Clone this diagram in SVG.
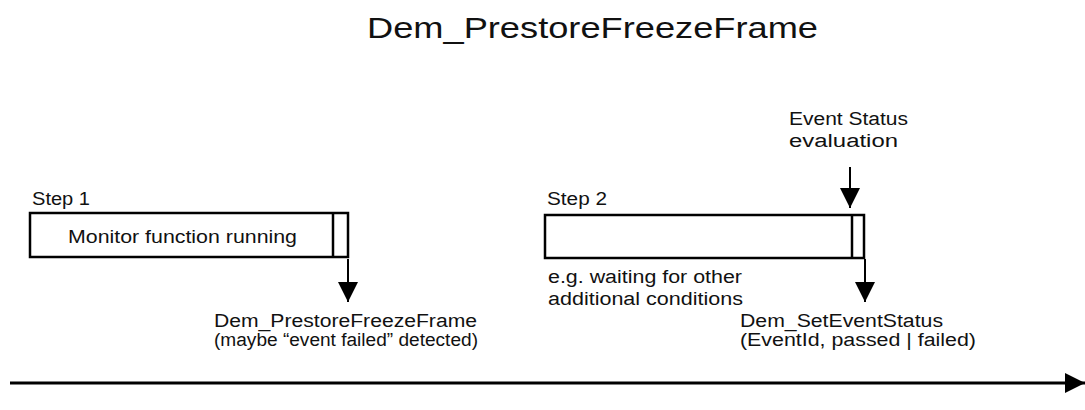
<svg xmlns="http://www.w3.org/2000/svg" width="1085" height="410" viewBox="0 0 1085 410">
<style>
  .t { font-family: "Liberation Sans", Arial, sans-serif; font-size: 18px; fill: #111; }
  .title { font-family: "Liberation Sans", Arial, sans-serif; font-size: 29px; fill: #111; }
  .box { fill: #fff; stroke: #000; stroke-width: 2.5; }
  .div { stroke: #000; stroke-width: 2.5; }
  .arr { stroke: #000; stroke-width: 2; fill: none; }
  .axis { stroke: #000; stroke-width: 3; fill: none; }
</style>
<defs>
  <marker id="head" markerUnits="userSpaceOnUse" markerWidth="20" markerHeight="20" viewBox="0 0 20 20" refX="20" refY="10" orient="auto">
    <path d="M0,0 L20,10 L0,20 Z" fill="#000"/>
  </marker>
</defs>
<rect width="1085" height="410" fill="#fff"/>
<g id="title">
  <text class="title" x="367" y="38" textLength="451" lengthAdjust="spacingAndGlyphs">Dem_PrestoreFreezeFrame</text>
</g>
<g id="step1">
  <text class="t" x="32" y="205" textLength="58" lengthAdjust="spacingAndGlyphs">Step 1</text>
  <rect class="box" x="30" y="213" width="318" height="44"/>
  <line class="div" x1="333" y1="213" x2="333" y2="257"/>
  <text class="t" x="68" y="243" textLength="229" lengthAdjust="spacingAndGlyphs">Monitor function running</text>
</g>
<g id="step2">
  <text class="t" x="547" y="205" textLength="60" lengthAdjust="spacingAndGlyphs">Step 2</text>
  <rect class="box" x="545" y="215" width="319" height="43"/>
  <line class="div" x1="852" y1="215" x2="852" y2="258"/>
  <text class="t" x="548" y="283" textLength="194" lengthAdjust="spacingAndGlyphs">e.g. waiting for other</text>
  <text class="t" x="548" y="305" textLength="195" lengthAdjust="spacingAndGlyphs">additional conditions</text>
</g>
<g id="event-status-evaluation">
  <text class="t" x="789" y="125" textLength="119" lengthAdjust="spacingAndGlyphs">Event Status</text>
  <text class="t" x="789" y="147" textLength="109" lengthAdjust="spacingAndGlyphs">evaluation</text>
</g>
<g id="prestore-call">
  <text class="t" x="214" y="327" textLength="263" lengthAdjust="spacingAndGlyphs">Dem_PrestoreFreezeFrame</text>
  <text class="t" x="214" y="346" textLength="264" lengthAdjust="spacingAndGlyphs">(maybe “event failed” detected)</text>
</g>
<g id="seteventstatus-call">
  <text class="t" x="740" y="327" textLength="203" lengthAdjust="spacingAndGlyphs">Dem_SetEventStatus</text>
  <text class="t" x="740" y="346" textLength="236" lengthAdjust="spacingAndGlyphs">(EventId, passed | failed)</text>
</g>
<g id="connectors">
  <line class="arr" x1="348" y1="259" x2="348" y2="302" marker-end="url(#head)"/>
  <line class="arr" x1="850" y1="167" x2="850" y2="208" marker-end="url(#head)"/>
  <line class="arr" x1="865" y1="259" x2="865" y2="302" marker-end="url(#head)"/>
  <line class="axis" x1="10" y1="383" x2="1085" y2="383" marker-end="url(#head)"/>
</g>
</svg>
